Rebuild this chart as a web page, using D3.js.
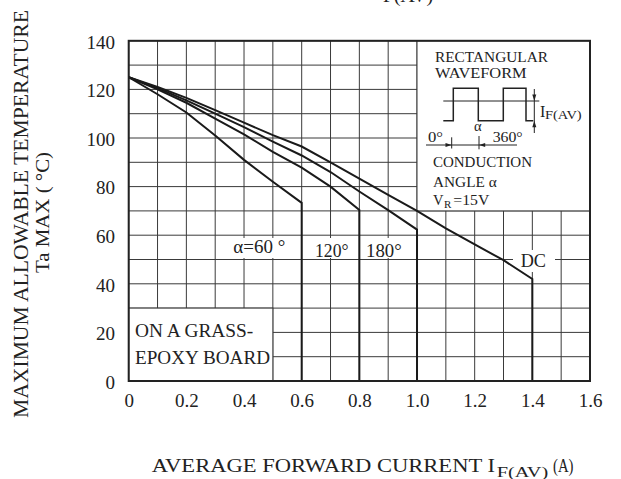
<!DOCTYPE html>
<html><head><meta charset="utf-8">
<script src="https://cdn.jsdelivr.net/npm/d3@7"></script>
<style>
html,body{margin:0;padding:0;background:#fff;}
svg{display:block;}
text{font-family:"Liberation Serif","Times New Roman",serif;fill:#222;}
</style>
</head><body>
<svg id="c" width="621" height="479"></svg>
<script>
// ---- data ----
const xTickValues = [0, 0.2, 0.4, 0.6, 0.8, 1.0, 1.2, 1.4, 1.6];
const xTickLabels = ["0", "0.2", "0.4", "0.6", "0.8", "1.0", "1.2", "1.4", "1.6"];
const yTickValues = [0, 20, 40, 60, 80, 100, 120, 140];
const yTickLabels = ["0", "20", "40", "60", "80", "100", "120", "140"];

const current60  = [0, 0.1, 0.2, 0.3, 0.4, 0.5, 0.6];
const temp60     = [125, 118, 110.5, 101, 91, 82, 73.3];
const current120 = [0, 0.1, 0.2, 0.3, 0.4, 0.5, 0.6, 0.7, 0.8];
const temp120    = [125, 120, 114.5, 108, 101.5, 94.3, 87.8, 80, 70.4];
const current180 = [0, 0.1, 0.2, 0.3, 0.4, 0.5, 0.6, 0.7, 0.8, 0.9, 1.0];
const temp180    = [125, 120.5, 115.5, 110, 104.5, 98.5, 92.8, 86, 78, 70.3, 62.3];
const currentDC  = [0, 0.1, 0.2, 0.3, 0.4, 0.5, 0.6, 0.7, 0.8, 0.9, 1.0, 1.1, 1.2, 1.3, 1.4];
const tempDC     = [125, 121, 116.5, 111.5, 106.3, 101.2, 96.5, 90, 83.3, 76.6, 70, 62.8, 56.2, 49.7, 42];

const curveLabels = ["α=60 °", "120°", "180°", "DC"];

// ---- setup ----
const svg = d3.select("#c");
const ink = "#222";
const gridInk = "#3a3a3a";
svg.append("rect").attr("width", 621).attr("height", 479).attr("fill", "#fff");

const x = d3.scaleLinear().domain([0, 1.6]).range([128.7, 590]);
const y = d3.scaleLinear().domain([0, 140]).range([381, 40.8]);

// grid
const g = svg.append("g");
g.selectAll("line.v").data(x.ticks(16)).join("line")
  .attr("x1", d => x(d)).attr("x2", d => x(d))
  .attr("y1", y(0)).attr("y2", y(140))
  .attr("stroke", gridInk).attr("stroke-width", 1);
g.selectAll("line.h").data(y.ticks(14)).join("line")
  .attr("y1", d => y(d)).attr("y2", d => y(d))
  .attr("x1", x(0)).attr("x2", x(1.6))
  .attr("stroke", gridInk).attr("stroke-width", 1);

// white boxes (inset + board note)
svg.append("rect")
  .attr("x", x(1.0)).attr("y", y(140))
  .attr("width", x(1.6) - x(1.0)).attr("height", y(70) - y(140))
  .attr("fill", "#fff").attr("stroke", gridInk).attr("stroke-width", 1);
svg.append("rect")
  .attr("x", x(0)).attr("y", y(30))
  .attr("width", x(0.5) - x(0)).attr("height", y(0) - y(30))
  .attr("fill", "#fff").attr("stroke", gridInk).attr("stroke-width", 1);

// label backgrounds
const labelSpecs = [
  {text: curveLabels[0], tx: 233.3, ty: 253.3, len: 52,  bg: [227, 238, 64, 20]},
  {text: curveLabels[1], tx: 315,   ty: 256.7, len: 33.5, bg: [310, 238, 44, 20]},
  {text: curveLabels[2], tx: 366,   ty: 256.7, len: 35.7, bg: [361, 238, 45, 20]},
  {text: curveLabels[3], tx: 520.7, ty: 266.7, len: 25.3, bg: [513, 250, 42, 22]}
];
svg.selectAll("rect.lbg").data(labelSpecs).join("rect")
  .attr("x", d => d.bg[0]).attr("y", d => d.bg[1])
  .attr("width", d => d.bg[2]).attr("height", d => d.bg[3])
  .attr("fill", "#fff");

// curves
const series = [
  {c: current60, t: temp60},
  {c: current120, t: temp120},
  {c: current180, t: temp180},
  {c: currentDC, t: tempDC}
];
const line = d3.line().x(d => x(d[0])).y(d => y(d[1]));
series.forEach(s => {
  const pts = s.c.map((c, i) => [c, s.t[i]]);
  const last = pts[pts.length - 1];
  pts.push([last[0], 0]);
  svg.append("path").attr("d", line(pts))
    .attr("fill", "none").attr("stroke", "#1a1a1a").attr("stroke-width", 2)
    .attr("stroke-linejoin", "miter");
});

// plot border
svg.append("rect")
  .attr("x", x(0)).attr("y", y(140))
  .attr("width", x(1.6) - x(0)).attr("height", y(0) - y(140))
  .attr("fill", "none").attr("stroke", ink).attr("stroke-width", 2);

// axes (labels only)
const xAxis = d3.axisBottom(x).tickValues(xTickValues)
  .tickFormat((d, i) => xTickLabels[i]).tickSize(0).tickPadding(12.5);
const gx = svg.append("g").attr("transform", `translate(0,${y(0)})`).call(xAxis);
gx.select(".domain").remove();
gx.selectAll("text").style("font-family", '"Liberation Serif","Times New Roman",serif')
  .style("font-size", "19px").attr("fill", ink);

const yAxis = d3.axisLeft(y).tickValues(yTickValues)
  .tickFormat((d, i) => yTickLabels[i]).tickSize(0).tickPadding(13.7);
const gy = svg.append("g").attr("transform", `translate(${x(0)},0)`).call(yAxis);
gy.select(".domain").remove();
gy.selectAll("text").style("font-family", '"Liberation Serif","Times New Roman",serif')
  .style("font-size", "19px").attr("fill", ink).attr("dy", "0.38em");

// curve labels
svg.selectAll("text.cl").data(labelSpecs).join("text")
  .attr("x", d => d.tx).attr("y", d => d.ty)
  .attr("font-size", 18)
  .attr("textLength", d => d.len).attr("lengthAdjust", "spacingAndGlyphs")
  .text(d => d.text);

// board note
svg.append("text").attr("x", 135).attr("y", 337.3).attr("font-size", 19)
  .attr("textLength", 118.3).attr("lengthAdjust", "spacingAndGlyphs").text("ON A GRASS-");
svg.append("text").attr("x", 135).attr("y", 364).attr("font-size", 19)
  .attr("textLength", 135).attr("lengthAdjust", "spacingAndGlyphs").text("EPOXY BOARD");

// inset texts
function txt(t, px, py, fs, len) {
  const e = svg.append("text").attr("x", px).attr("y", py).attr("font-size", fs).text(t);
  if (len) e.attr("textLength", len).attr("lengthAdjust", "spacingAndGlyphs");
  return e;
}
txt("RECTANGULAR", 435, 61.7, 14, 113);
txt("WAVEFORM", 435, 78.3, 14, 91.7);
txt("I", 540, 117.3, 16);
txt("F(AV)", 545, 118.5, 13, 36.7);
txt("0°", 428, 141.7, 14.5, 15);
txt("α", 474, 130.7, 14.5);
txt("360°", 492.7, 141.7, 14.5, 30);
txt("CONDUCTION", 433, 166.7, 14.5, 99);
txt("ANGLE α", 433, 186.7, 14.5, 63.7);
txt("V", 433, 205, 14.5);
txt("R", 444, 207.5, 11);
txt("=15V", 453.3, 205, 14.5, 36);

// waveform drawing
const wave = [[443.3,120.7],[453.3,120.7],[453.3,88.3],[478.3,88.3],[478.3,120.7],[503.3,120.7],[503.3,88.3],[526,88.3],[526,120.7],[533.3,120.7]];
svg.append("path").attr("d", d3.line()(wave)).attr("fill", "none").attr("stroke", ink).attr("stroke-width", 1.5);
svg.append("line").attr("x1", 443.3).attr("x2", 539.3).attr("y1", 101).attr("y2", 101).attr("stroke", ink).attr("stroke-width", 1);
// I_F(AV) arrow
svg.append("line").attr("x1", 534.3).attr("x2", 534.3).attr("y1", 89).attr("y2", 133).attr("stroke", ink).attr("stroke-width", 1);
svg.append("path").attr("d", "M534.3,101 L532.3,94.5 L536.3,94.5 Z").attr("fill", ink);
svg.append("path").attr("d", "M534.3,120.7 L532.3,127.2 L536.3,127.2 Z").attr("fill", ink);
// angle dimension
svg.append("line").attr("x1", 426).attr("x2", 517).attr("y1", 145).attr("y2", 145).attr("stroke", ink).attr("stroke-width", 1);
svg.append("line").attr("x1", 451.7).attr("x2", 451.7).attr("y1", 137.3).attr("y2", 148.5).attr("stroke", ink).attr("stroke-width", 1);
svg.append("line").attr("x1", 479).attr("x2", 479).attr("y1", 136).attr("y2", 149.3).attr("stroke", ink).attr("stroke-width", 1);
svg.append("path").attr("d", "M451.7,145 L445.5,143 L445.5,147 Z").attr("fill", ink);
svg.append("path").attr("d", "M479,145 L485.2,143 L485.2,147 Z").attr("fill", ink);

// axis titles
svg.append("text").attr("x", 151.7).attr("y", 472.3).attr("font-size", 18.5)
  .attr("textLength", 343.3).attr("lengthAdjust", "spacingAndGlyphs").text("AVERAGE FORWARD CURRENT I");
svg.append("text").attr("x", 496.7).attr("y", 476.5).attr("font-size", 15.5)
  .attr("textLength", 51.5).attr("lengthAdjust", "spacingAndGlyphs").text("F(AV)");
svg.append("text").attr("x", 553).attr("y", 472.3).attr("font-size", 18.5)
  .attr("textLength", 20.5).attr("lengthAdjust", "spacingAndGlyphs").text("(A)");

svg.append("text").attr("transform", "translate(28,214) rotate(-90)")
  .attr("text-anchor", "middle").attr("font-size", 21)
  .attr("textLength", 408).attr("lengthAdjust", "spacingAndGlyphs").text("MAXIMUM ALLOWABLE TEMPERATURE");
svg.append("text").attr("transform", "translate(48.5,212.5) rotate(-90)")
  .attr("text-anchor", "middle").attr("font-size", 18)
  .attr("textLength", 121).attr("lengthAdjust", "spacingAndGlyphs").text("Ta MAX ( °C)");

// cut-off title fragment at the top edge (continuation of a title above the frame)
svg.append("text").attr("x", 383).attr("y", 1.5).attr("font-size", 19)
  .attr("textLength", 50).attr("lengthAdjust", "spacingAndGlyphs").text("F(AV)");
</script>
</body></html>
